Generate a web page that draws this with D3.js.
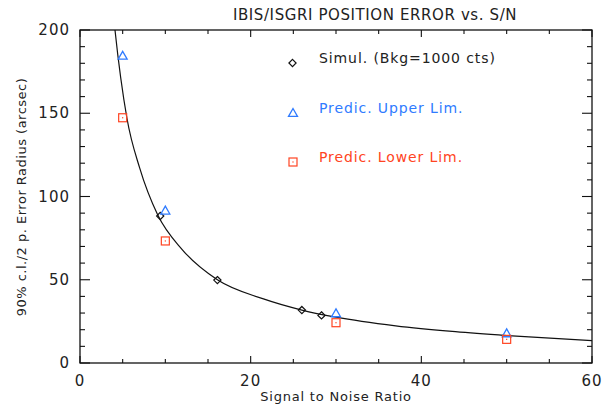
<!DOCTYPE html>
<html><head><meta charset="utf-8">
<script src="https://cdn.jsdelivr.net/npm/d3@7"></script>
<style>
body{margin:0;background:#fff;}
svg text{font-family:"DejaVu Sans",sans-serif;fill:#222;}
</style></head>
<body><svg id="c" width="608" height="406"></svg>
<script>
// --- data ---
const simulX = [9.4, 16.1, 26.0, 28.3];
const simulY = [88.3, 49.8, 31.8, 28.6];
const upperX = [5, 10, 30, 50];
const upperY = [184.5, 91.5, 29.8, 17.8];
const lowerX = [5, 10, 30, 50];
const lowerY = [147.3, 73.3, 24.2, 14.2];
const curveX = [3.9, 4.1, 5.5, 7, 9.1, 12, 16.1, 21.5, 26, 30, 37, 44, 50, 60];
const curveY = [210, 200, 147, 117, 89, 68, 50, 38.5, 31.8, 27.5, 22.3, 18.8, 16.5, 13.4];
const xTicks = [0, 20, 40, 60];
const yTicks = [0, 50, 100, 150, 200];
const legendLabels = ["Simul. (Bkg=1000 cts)", "Predic. Upper Lim.", "Predic. Lower Lim."];

const blue = "#2f7bff", red = "#ff4422";
const svg = d3.select("#c");
const L = 80, R = 592, T = 30, B = 363;
const x = d3.scaleLinear().domain([0, 60]).range([L, R]);
const y = d3.scaleLinear().domain([0, 200]).range([B, T]);

// frame
svg.append("rect").attr("x", L).attr("y", T).attr("width", R - L).attr("height", B - T)
  .attr("fill", "none").attr("stroke", "#111").attr("stroke-width", 1.3);

// ticks
const g = svg.append("g").attr("stroke", "#111").attr("stroke-width", 1.1);
d3.range(0, 61, 5).forEach(v => {
  const len = v % 20 === 0 ? 7 : 4;
  g.append("line").attr("x1", x(v)).attr("x2", x(v)).attr("y1", B).attr("y2", B - len);
  g.append("line").attr("x1", x(v)).attr("x2", x(v)).attr("y1", T).attr("y2", T + len);
});
d3.range(0, 201, 10).forEach(v => {
  const len = v % 50 === 0 ? 10 : 5;
  g.append("line").attr("y1", y(v)).attr("y2", y(v)).attr("x1", L).attr("x2", L + len);
  g.append("line").attr("y1", y(v)).attr("y2", y(v)).attr("x1", R).attr("x2", R - len);
});

// tick labels
xTicks.forEach(v => svg.append("text").attr("x", x(v)).attr("y", 386)
  .attr("text-anchor", "middle").attr("font-size", 15).attr("letter-spacing", 1).text(v));
yTicks.forEach(v => svg.append("text").attr("x", 70).attr("y", y(v) + 5)
  .attr("text-anchor", "end").attr("font-size", 15).attr("letter-spacing", 1).text(v));

// titles
svg.append("text").attr("x", 375).attr("y", 20).attr("text-anchor", "middle")
  .attr("font-size", 15).attr("letter-spacing", 0.6).text("IBIS/ISGRI POSITION ERROR vs. S/N");
svg.append("text").attr("x", 336).attr("y", 401).attr("text-anchor", "middle")
  .attr("font-size", 13).attr("letter-spacing", 0.8).text("Signal to Noise Ratio");
svg.append("text").attr("transform", "translate(26,197) rotate(-90)").attr("text-anchor", "middle")
  .attr("font-size", 13).attr("letter-spacing", 0.5).text("90% c.l./2 p. Error Radius (arcsec)");

// curve
svg.append("clipPath").attr("id", "clip").append("rect")
  .attr("x", L).attr("y", T).attr("width", R - L).attr("height", B - T);
const line = d3.line().x(d => x(d[0])).y(d => y(d[1])).curve(d3.curveMonotoneX);
svg.append("path").datum(d3.zip(curveX, curveY)).attr("d", line)
  .attr("clip-path", "url(#clip)").attr("fill", "none").attr("stroke", "#111").attr("stroke-width", 1.2);

// markers
function diamond(cx, cy, col) {
  const s = 3.6;
  svg.append("path").attr("d", `M${cx},${cy - s}L${cx + s},${cy}L${cx},${cy + s}L${cx - s},${cy}Z`)
    .attr("fill", "none").attr("stroke", col).attr("stroke-width", 1.2);
}
function triangle(cx, cy, col) {
  const s = 4.5;
  svg.append("path").attr("d", `M${cx},${cy - s}L${cx + s},${cy + s * 0.75}L${cx - s},${cy + s * 0.75}Z`)
    .attr("fill", "none").attr("stroke", col).attr("stroke-width", 1.3);
}
function square(cx, cy, col) {
  const s = 4;
  svg.append("rect").attr("x", cx - s).attr("y", cy - s).attr("width", 2 * s).attr("height", 2 * s)
    .attr("fill", "none").attr("stroke", col).attr("stroke-width", 1.2);
  svg.append("rect").attr("x", cx - 0.6).attr("y", cy - 0.6).attr("width", 1.2).attr("height", 1.2).attr("fill", col);
}
simulX.forEach((v, i) => diamond(x(v), y(simulY[i]), "#111"));
upperX.forEach((v, i) => triangle(x(v), y(upperY[i]), blue));
lowerX.forEach((v, i) => square(x(v), y(lowerY[i]), red));

// legend
const legY = [63, 113, 162];
diamond(292.5, legY[0], "#111");
triangle(293, legY[1], blue);
square(293, legY[2], red);
const legCols = ["#222", blue, red];
legendLabels.forEach((t, i) => svg.append("text").attr("x", 319).attr("y", legY[i] - 0)
  .attr("font-size", 14).attr("letter-spacing", 0.9).style("fill", legCols[i]).text(t));
</script></body></html>
